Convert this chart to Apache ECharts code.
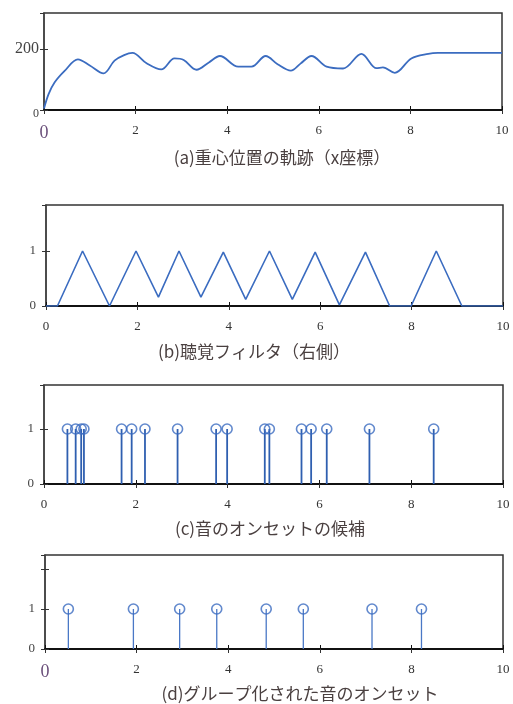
<!DOCTYPE html>
<html>
<head>
<meta charset="utf-8">
<script src="https://cdn.jsdelivr.net/npm/echarts@6/dist/echarts.min.js"></script>
<style>
html,body{margin:0;padding:0;background:#fff;}
#main{width:513px;height:704px;}
</style>
</head>
<body>
<div id="main"></div>
<script>
// (a) 重心位置の軌跡
var trackX = [0, 0.1, 0.23, 0.45, 0.74, 1.0, 1.3, 1.54, 1.75, 1.93, 2.24, 2.56, 2.85, 3.05, 3.33, 3.6, 3.84, 4.24, 4.53, 4.84, 5.1, 5.39, 5.6, 5.84, 6.17, 6.53, 6.93, 7.26, 7.4, 7.66, 8.02, 8.39, 8.6, 10];
var trackY = [5, 52, 90, 128, 166, 146, 120, 162, 180, 187, 153, 133, 169, 164, 132, 156, 177, 142, 142, 177, 150, 129, 152, 177, 142, 136, 184, 137, 140, 122, 169, 184, 187, 187];
// (b) 聴覚フィルタ
var filterX = [0, 0.25, 0.80, 1.39, 1.97, 2.46, 2.91, 3.39, 3.88, 4.37, 4.89, 5.39, 5.89, 6.42, 6.99, 7.52, 7.99, 8.54, 9.1, 10];
var filterY = [0, 0, 1, 0, 1, 0.16, 1, 0.16, 0.98, 0.12, 1, 0.12, 0.98, 0.02, 0.98, 0, 0, 1, 0, 0];
// (c) 音のオンセットの候補
var candX = [0.51, 0.69, 0.81, 0.87, 1.69, 1.91, 2.20, 2.91, 3.75, 3.99, 4.81, 4.91, 5.61, 5.82, 6.16, 7.09, 8.49];
// (d) グループ化された音のオンセット
var groupX = [0.51, 1.93, 2.94, 3.75, 4.83, 5.64, 7.14, 8.22];

var captions = ['(a)重心位置の軌跡（x座標）', '(b)聴覚フィルタ（右側）', '(c)音のオンセットの候補', '(d)グループ化された音のオンセット'];
// y tick labels shown on each panel
var yLabels = [[0, 200], [0, 1], [0, 1], [0, 1]];

var blue = '#3b6cc0';
var grids = [
  {left:44, top:13, width:458, height:97},
  {left:46, top:205, width:457, height:101},
  {left:44, top:385, width:459, height:99},
  {left:45, top:555, width:458, height:94}
];
var yMax = [318, 1.836, 1.8, 2.35];
var yStep = [200, 1, 1, 1];
var capPos = [[282, 158], [254, 352], [270, 529], [300, 694]];

function zip(xs, ys) {
  return xs.map(function (x, i) { return [x, ys[i]]; });
}
function ones(xs) {
  return xs.map(function (x) { return [x, 1]; });
}

var xAxes = [], yAxes = [];
grids.forEach(function (g, i) {
  g.show = true;
  g.borderColor = '#333';
  g.borderWidth = 1.5;
  g.outerBoundsMode = 'none';
  xAxes.push({
    type:'value', gridIndex:i, min:0, max:10, interval:2, position:'bottom',
    axisLine:{lineStyle:{color:'#111', width:2}},
    axisTick:{inside:true, length:4, lineStyle:{color:'#111'}},
    splitLine:{show:false},
    axisLabel:{
      margin:14, color:'#333', fontFamily:'Liberation Serif', fontSize:13,
      formatter:function (v) { return (v === 0 && (i === 0 || i === 3)) ? '{big|0}' : String(v); },
      rich:{big:{fontSize:18, color:'#6a4f7a', fontFamily:'Liberation Serif'}}
    }
  });
  xAxes.push({
    type:'value', gridIndex:i, min:0, max:10, interval:2, position:'top',
    axisLine:{show:false}, axisTick:{inside:true, length:4, lineStyle:{color:'#333'}},
    axisLabel:{show:false}, splitLine:{show:false}
  });
  yAxes.push({
    type:'value', gridIndex:i, min:0, max:yMax[i], interval:yStep[i], position:'left',
    axisLine:{show:true, lineStyle:{color:'#444', width:1.5}},
    axisTick:{show:true, inside:true, length:4, lineStyle:{color:'#333'}},
    splitLine:{show:false},
    axisLabel:{
      showMaxLabel:false, margin:i === 0 ? 5 : 10, color:'#444', fontFamily:'Liberation Serif',
      formatter:function (v) {
        if (yLabels[i].indexOf(v) < 0) return '';
        return (i === 0 && v === 0) ? '{s|0}' : String(v);
      },
      fontSize:i === 0 ? 16 : 13,
      rich:{s:{fontSize:12, color:'#444', fontFamily:'Liberation Serif', padding:[8, 0, 0, 0]}}
    }
  });
  yAxes.push({
    type:'value', gridIndex:i, min:0, max:yMax[i], interval:yStep[i], position:'right',
    axisLine:{show:false}, axisTick:{show:true, inside:true, length:4, lineStyle:{color:'#333'}},
    axisLabel:{show:false}, splitLine:{show:false}
  });
});

var series = [
  {type:'line', xAxisIndex:0, yAxisIndex:0, data:zip(trackX, trackY), smooth:0.35,
   symbol:'none', lineStyle:{color:blue, width:1.8}},
  {type:'line', xAxisIndex:2, yAxisIndex:2, data:zip(filterX, filterY),
   symbol:'none', lineStyle:{color:blue, width:1.6}},
  {type:'bar', xAxisIndex:4, yAxisIndex:4, data:ones(candX), barWidth:1.8,
   itemStyle:{color:'#2f5fb0'}},
  {type:'scatter', xAxisIndex:4, yAxisIndex:4, data:ones(candX), symbol:'circle', symbolSize:10,
   itemStyle:{color:'transparent', borderColor:blue, borderWidth:1.6}},
  {type:'bar', xAxisIndex:6, yAxisIndex:6, data:ones(groupX), barWidth:1.3,
   itemStyle:{color:'#4a78c6'}},
  {type:'scatter', xAxisIndex:6, yAxisIndex:6, data:ones(groupX), symbol:'circle', symbolSize:10,
   itemStyle:{color:'transparent', borderColor:blue, borderWidth:1.6}}
];

var graphics = captions.map(function (t, i) {
  return {type:'text', x:capPos[i][0], y:capPos[i][1], z:10,
    style:{text:t, fill:'#4a4040', font:'17px "Noto Sans CJK JP"',
      align:'center', verticalAlign:'middle'}};
});

var myChart = echarts.init(document.getElementById('main'));
myChart.setOption({
  animation:false,
  backgroundColor:'#fff',
  grid:grids,
  xAxis:xAxes,
  yAxis:yAxes,
  series:series,
  graphic:graphics
});
</script>
</body>
</html>
